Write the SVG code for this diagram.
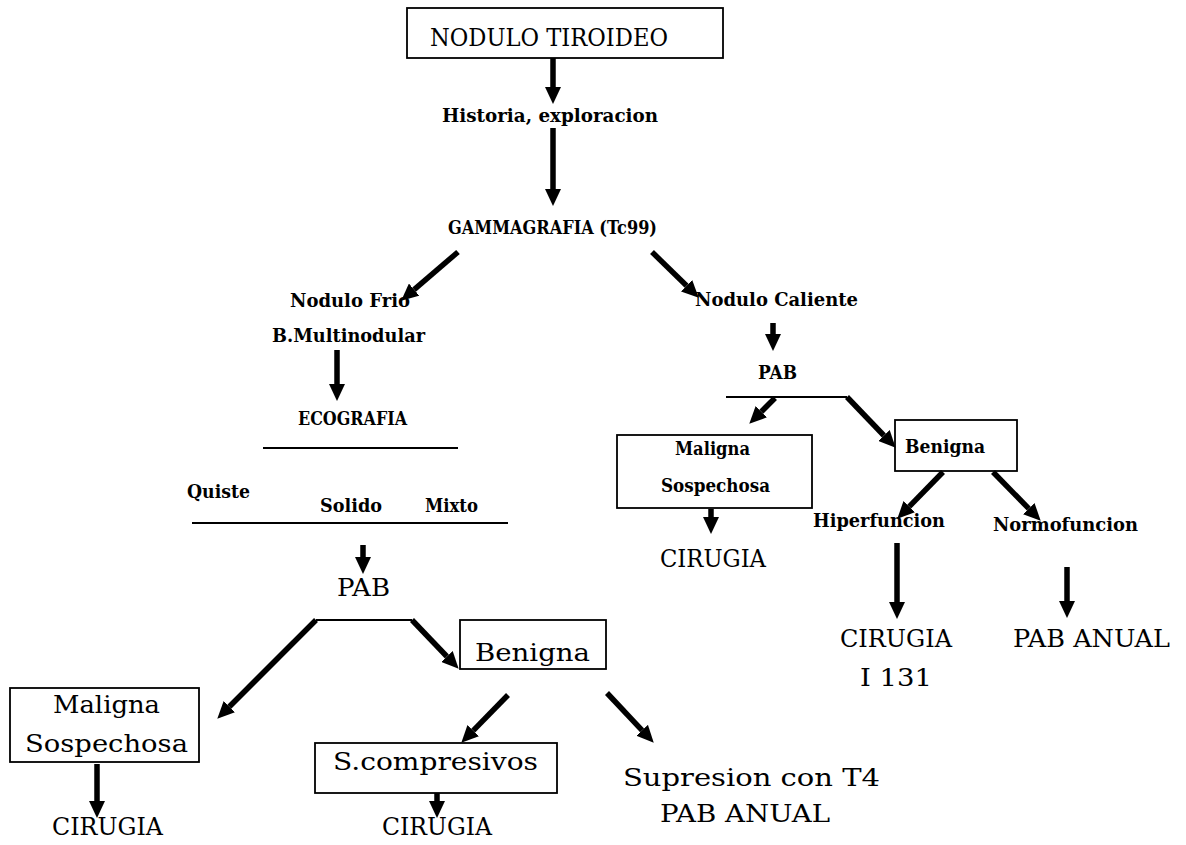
<svg xmlns="http://www.w3.org/2000/svg" width="1186" height="845" viewBox="0 0 1186 845">
<style>
.b{font-family:"DejaVu Serif","Liberation Serif",serif;font-weight:bold;font-size:18.5px;fill:#000}
.r{font-family:"DejaVu Serif","Liberation Serif",serif;font-size:25px;fill:#000}
.m{font-family:"DejaVu Serif","Liberation Serif",serif;font-size:24px;fill:#000}
.box{fill:none;stroke:#000;stroke-width:1.8}
.thin{stroke:#000;stroke-width:1.8;fill:none}
.arr{stroke:#000;stroke-width:5.5;fill:none;marker-end:url(#ah)}
</style>
<defs>
<marker id="ah" markerUnits="userSpaceOnUse" markerWidth="17" markerHeight="16" refX="0" refY="8" orient="auto" viewBox="0 0 17 16">
<path d="M0,0 L17,8 L0,16 z" fill="#000"/>
</marker>
</defs>
<rect x="0" y="0" width="1186" height="845" fill="#fff"/>
<g id="connectors">
<line class="arr" x1="553" y1="58" x2="553" y2="87"/>
<line class="arr" x1="553" y1="128" x2="553" y2="189"/>
<line class="arr" x1="458" y1="252" x2="414.1" y2="289.6"/>
<line class="arr" x1="652" y1="252" x2="686.6" y2="285.8"/>
<line class="arr" x1="337" y1="350" x2="337" y2="384"/>
<line class="thin" x1="263" y1="448" x2="458" y2="448"/>
<line class="thin" x1="192" y1="523" x2="508" y2="523"/>
<line class="arr" x1="363" y1="545" x2="363" y2="557"/>
<line class="thin" x1="316" y1="620" x2="412" y2="620"/>
<line class="arr" x1="316" y1="620" x2="229.3" y2="706.7"/>
<line class="arr" x1="412" y1="620" x2="446.9" y2="656.5"/>
<line class="arr" x1="508" y1="695" x2="473.2" y2="730.6"/>
<line class="arr" x1="607" y1="693" x2="642.1" y2="730.3"/>
<line class="arr" x1="97" y1="764" x2="97" y2="801"/>
<line class="arr" x1="437" y1="793" x2="437" y2="801"/>
<line class="arr" x1="773" y1="323" x2="773" y2="334"/>
<line class="thin" x1="726" y1="397" x2="847" y2="397"/>
<line class="arr" x1="775" y1="398" x2="761.3" y2="411.7"/>
<line class="arr" x1="847" y1="397" x2="883.9" y2="435.5"/>
<line class="arr" x1="711" y1="509" x2="711" y2="517"/>
<line class="arr" x1="943" y1="472" x2="909.2" y2="506.6"/>
<line class="arr" x1="993" y1="472" x2="1028.8" y2="508.6"/>
<line class="arr" x1="897" y1="543" x2="897" y2="602"/>
<line class="arr" x1="1067" y1="567" x2="1067" y2="601"/>
</g>
<g id="nodulo-tiroideo">
<rect class="box" x="407" y="8" width="316" height="50"/>
<text class="m" x="430" y="46" textLength="238" lengthAdjust="spacingAndGlyphs">NODULO TIROIDEO</text>
</g>
<g id="historia"><text class="b" x="442" y="122" textLength="216" lengthAdjust="spacingAndGlyphs">Historia, exploracion</text></g>
<g id="gammagrafia"><text class="b" x="448" y="234" textLength="209" lengthAdjust="spacingAndGlyphs">GAMMAGRAFIA (Tc99)</text></g>
<g id="nodulo-frio">
<text class="b" x="290" y="307" textLength="120" lengthAdjust="spacingAndGlyphs">Nodulo Frio</text>
<text class="b" x="272" y="342" textLength="153" lengthAdjust="spacingAndGlyphs">B.Multinodular</text>
</g>
<g id="ecografia"><text class="b" x="298" y="425" textLength="109" lengthAdjust="spacingAndGlyphs">ECOGRAFIA</text></g>
<g id="tipos">
<text class="b" x="187" y="498" textLength="63" lengthAdjust="spacingAndGlyphs">Quiste</text>
<text class="b" x="320" y="512" textLength="62" lengthAdjust="spacingAndGlyphs">Solido</text>
<text class="b" x="425" y="512" textLength="53" lengthAdjust="spacingAndGlyphs">Mixto</text>
</g>
<g id="pab-left"><text class="r" x="337" y="596" textLength="53" lengthAdjust="spacingAndGlyphs">PAB</text></g>
<g id="benigna-left">
<rect class="box" x="460" y="620" width="146" height="49"/>
<text class="r" x="475" y="661" textLength="115" lengthAdjust="spacingAndGlyphs">Benigna</text>
</g>
<g id="maligna-left">
<rect class="box" x="10" y="688" width="189" height="74"/>
<text class="r" x="53" y="713" textLength="107" lengthAdjust="spacingAndGlyphs">Maligna</text>
<text class="r" x="25" y="752" textLength="163" lengthAdjust="spacingAndGlyphs">Sospechosa</text>
</g>
<g id="cirugia-left"><text class="r" x="52" y="835" textLength="111" lengthAdjust="spacingAndGlyphs">CIRUGIA</text></g>
<g id="compresivos">
<rect class="box" x="315" y="743" width="242" height="50"/>
<text class="r" x="333" y="770" textLength="205" lengthAdjust="spacingAndGlyphs">S.compresivos</text>
</g>
<g id="cirugia-mid"><text class="r" x="382" y="835" textLength="110" lengthAdjust="spacingAndGlyphs">CIRUGIA</text></g>
<g id="supresion">
<text class="m" x="623" y="786" textLength="257" lengthAdjust="spacingAndGlyphs">Supresion con T4</text>
<text class="m" x="660" y="822" textLength="170" lengthAdjust="spacingAndGlyphs">PAB ANUAL</text>
</g>
<g id="nodulo-caliente"><text class="b" x="695" y="306" textLength="163" lengthAdjust="spacingAndGlyphs">Nodulo Caliente</text></g>
<g id="pab-right"><text class="b" x="758" y="379" textLength="39" lengthAdjust="spacingAndGlyphs">PAB</text></g>
<g id="maligna-right">
<rect class="box" x="617" y="435" width="195" height="73"/>
<text class="b" x="675" y="455" textLength="75" lengthAdjust="spacingAndGlyphs">Maligna</text>
<text class="b" x="661" y="492" textLength="109" lengthAdjust="spacingAndGlyphs">Sospechosa</text>
</g>
<g id="cirugia-right1"><text class="m" x="660" y="567" textLength="106" lengthAdjust="spacingAndGlyphs">CIRUGIA</text></g>
<g id="benigna-right">
<rect class="box" x="895" y="420" width="122" height="51"/>
<text class="b" x="905" y="453" textLength="80" lengthAdjust="spacingAndGlyphs">Benigna</text>
</g>
<g id="hiperfuncion"><text class="b" x="813" y="527" textLength="132" lengthAdjust="spacingAndGlyphs">Hiperfuncion</text></g>
<g id="normofuncion"><text class="b" x="993" y="531" textLength="145" lengthAdjust="spacingAndGlyphs">Normofuncion</text></g>
<g id="cirugia-i131">
<text class="r" x="840" y="647" textLength="112" lengthAdjust="spacingAndGlyphs">CIRUGIA</text>
<text class="r" x="860" y="686" textLength="72" lengthAdjust="spacingAndGlyphs">I 131</text>
</g>
<g id="pab-anual-right"><text class="r" x="1013" y="647" textLength="157" lengthAdjust="spacingAndGlyphs">PAB ANUAL</text></g>
</svg>
